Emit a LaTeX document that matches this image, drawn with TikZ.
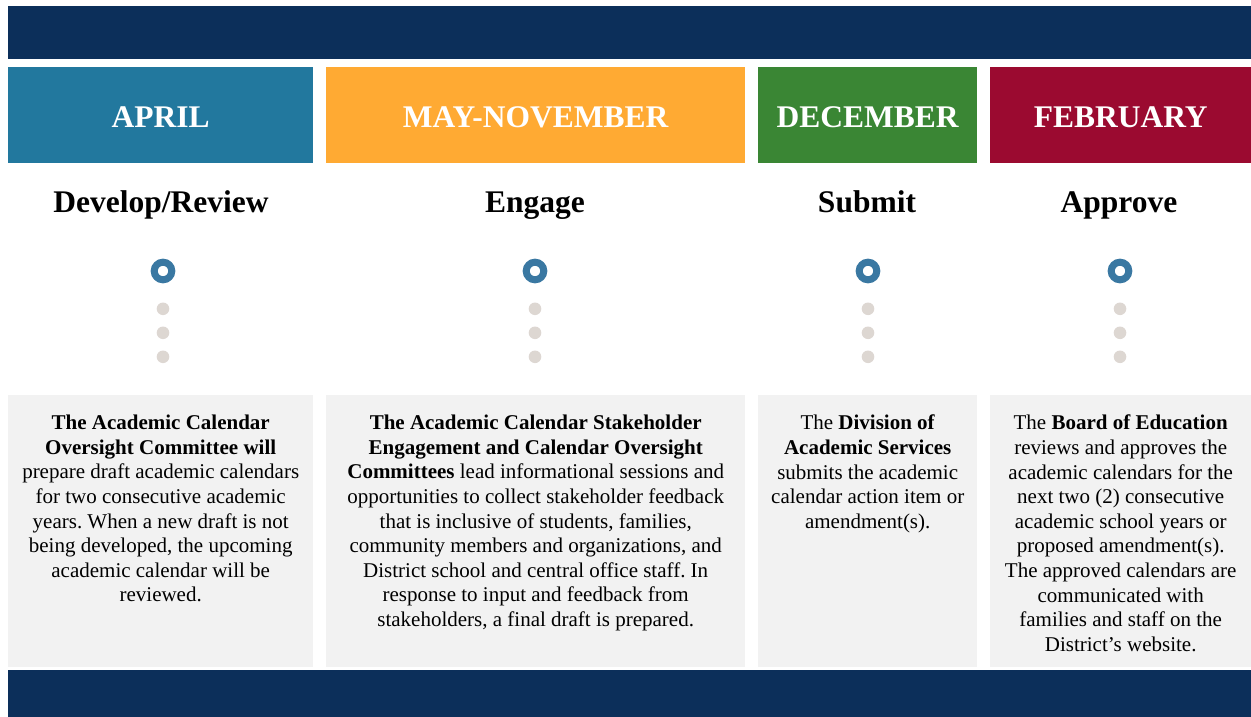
\documentclass[tikz,border=0pt]{standalone}
\usepackage{fontspec}
\setmainfont{Liberation Serif}
\frenchspacing
\usetikzlibrary{positioning}
\definecolor{navy}{HTML}{0C2F5A}
\definecolor{aprilblue}{HTML}{22789E}
\definecolor{mayorange}{HTML}{FFAA33}
\definecolor{decgreen}{HTML}{3A8634}
\definecolor{febred}{HTML}{9B0A30}
\definecolor{ringblue}{HTML}{3A78A2}
\definecolor{dotgray}{HTML}{DDD7D2}
\definecolor{boxgray}{HTML}{F2F2F2}
\tikzset{
  bandeau/.style={rectangle,fill=navy,anchor=north west,inner sep=0pt,minimum width=1243pt},
  monthbox/.style={rectangle,anchor=north west,inner sep=0pt,minimum height=96pt,text height=25pt,text depth=0pt,text=white,font=\fontsize{31.5}{36}\selectfont\bfseries},
  phase/.style={anchor=base,inner sep=0pt,font=\fontsize{31.5}{36}\selectfont\bfseries},
  ring/.style={circle,draw=ringblue,line width=7pt,minimum size=17.6pt,inner sep=0pt},
  dotg/.style={circle,fill=dotgray,minimum size=12.6pt,inner sep=0pt},
  descbox/.style={rectangle,fill=boxgray,anchor=north west,inner sep=0pt,minimum height=272pt},
  desctext/.style={anchor=north,inner sep=0pt,align=center,font=\fontsize{21}{24.6}\selectfont},
}
\begin{document}
\begin{tikzpicture}[x=1pt,y=-1pt,node distance=11pt]
\useasboundingbox[fill=white] (0,0) rectangle (1251,717);
% bandeaux
\node[bandeau,minimum height=53pt] (top) at (8,6) {};
\node[bandeau,minimum height=47pt] (bottom) at (8,670) {};
% colonne avril
\node[monthbox,fill=aprilblue,minimum width=305pt] (m1) at (8,67) {APRIL};
\node[phase] (p1) at (161,212) {Develop/Review};
\node[ring] (r1) at (163,271) {};
\node[descbox,minimum width=305pt] (d1) at (8,395) {};
\node[desctext,below=20pt of d1.north] (t1) {\textbf{The Academic Calendar}\\ \textbf{Oversight Committee will}\\ prepare draft academic calendars\\ for two consecutive academic\\ years. When a new draft is not\\ being developed, the upcoming\\ academic calendar will be\\ reviewed.};
% colonne mai-novembre
\node[monthbox,fill=mayorange,minimum width=419pt] (m2) at (326,67) {MAY-NOVEMBER};
\node[phase] (p2) at (535,212) {Engage};
\node[ring] (r2) at (535,271) {};
\node[descbox,minimum width=419pt] (d2) at (326,395) {};
\node[desctext,below=20pt of d2.north] (t2) {\textbf{The Academic Calendar Stakeholder}\\ \textbf{Engagement and Calendar Oversight}\\ \textbf{Committees} lead informational sessions and\\ opportunities to collect stakeholder feedback\\ that is inclusive of students, families,\\ community members and organizations, and\\ District school and central office staff. In\\ response to input and feedback from\\ stakeholders, a final draft is prepared.};
% colonne decembre
\node[monthbox,fill=decgreen,minimum width=219pt] (m3) at (758,67) {DECEMBER};
\node[phase] (p3) at (867,212) {Submit};
\node[ring] (r3) at (868,271) {};
\node[descbox,minimum width=219pt] (d3) at (758,395) {};
\node[desctext,below=20pt of d3.north] (t3) {The \textbf{Division of}\\ \textbf{Academic Services}\\ submits the academic\\ calendar action item or\\ amendment(s).};
% colonne fevrier
\node[monthbox,fill=febred,minimum width=261pt] (m4) at (990,67) {FEBRUARY};
\node[phase] (p4) at (1119,212) {Approve};
\node[ring] (r4) at (1120,271) {};
\node[descbox,minimum width=261pt] (d4) at (990,395) {};
\node[desctext,below=20pt of d4.north] (t4) {The \textbf{Board of Education}\\ reviews and approves the\\ academic calendars for the\\ next two (2) consecutive\\ academic school years or\\ proposed amendment(s).\\ The approved calendars are\\ communicated with\\ families and staff on the\\ District’s website.};
% points gris sous chaque anneau
\foreach \r in {r1,r2,r3,r4} {
  \node[dotg,below=19pt of \r] (\r a) {};
  \node[dotg,below=of \r a] (\r b) {};
  \node[dotg,below=of \r b] (\r c) {};
}
\end{tikzpicture}
\end{document}
